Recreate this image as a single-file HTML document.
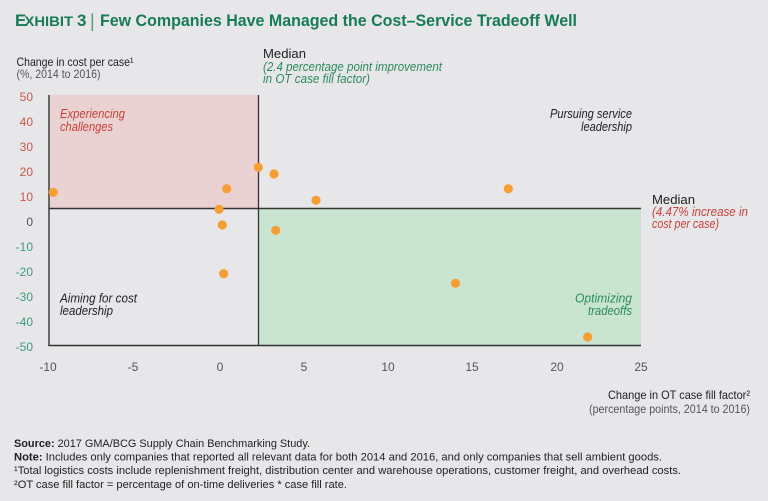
<!DOCTYPE html>
<html>
<head>
<meta charset="utf-8">
<style>
  html, body { margin:0; padding:0; background:#e7e7e9; }
  svg { display:block; }
  text { font-family: "Liberation Sans", "DejaVu Sans", sans-serif; }
</style>
</head>
<body>
<svg width="768" height="501" viewBox="0 0 768 501" xmlns="http://www.w3.org/2000/svg">
  <rect x="0" y="0" width="768" height="501" fill="#e7e7e9"/>

  <!-- Title -->
  <text x="15" y="26" font-size="17" font-weight="bold" fill="#177b57">E</text>
  <text x="24.5" y="26" font-size="13.5" font-weight="bold" fill="#177b57" textLength="48.5" lengthAdjust="spacingAndGlyphs">XHIBIT</text>
  <text x="77" y="26" font-size="17" font-weight="bold" fill="#177b57">3</text>
  <text x="90" y="27" font-size="18" fill="#4d9a7c">|</text>
  <text x="100" y="26" font-size="17" font-weight="bold" fill="#177b57" textLength="477" lengthAdjust="spacingAndGlyphs">Few Companies Have Managed the Cost–Service Tradeoff Well</text>

  <!-- Y axis title -->
  <text x="16.5" y="66" font-size="12" fill="#222" textLength="117" lengthAdjust="spacingAndGlyphs">Change in cost per case¹</text>
  <text x="16.5" y="78" font-size="12" fill="#555" textLength="84" lengthAdjust="spacingAndGlyphs">(%, 2014 to 2016)</text>

  <!-- Median top label -->
  <text x="263" y="58" font-size="13" fill="#222" textLength="43" lengthAdjust="spacingAndGlyphs">Median</text>
  <text x="263" y="71" font-size="12.5" font-style="italic" fill="#2a8a5e" textLength="179" lengthAdjust="spacingAndGlyphs">(2.4 percentage point improvement</text>
  <text x="263" y="83" font-size="12.5" font-style="italic" fill="#2a8a5e" textLength="107" lengthAdjust="spacingAndGlyphs">in OT case fill factor)</text>

  <!-- Quadrant fills -->
  <rect x="49" y="95" width="209.5" height="113.5" fill="#ead2d2"/>
  <rect x="258.5" y="208.5" width="382.5" height="136.5" fill="#c9e4d1"/>

  <!-- Axis lines -->
  <line x1="49" y1="95" x2="49" y2="345.5" stroke="#333" stroke-width="1.4"/>
  <line x1="48.3" y1="345.5" x2="641" y2="345.5" stroke="#333" stroke-width="1.4"/>
  <!-- Median lines -->
  <line x1="258.5" y1="95" x2="258.5" y2="345" stroke="#333" stroke-width="1.3"/>
  <line x1="49" y1="208.5" x2="641" y2="208.5" stroke="#333" stroke-width="1.4"/>

  <!-- Y tick labels -->
  <g font-size="12" text-anchor="end">
    <text x="33" y="101" fill="#c9574b">50</text>
    <text x="33" y="126" fill="#c9574b">40</text>
    <text x="33" y="151" fill="#c9574b">30</text>
    <text x="33" y="176" fill="#c9574b">20</text>
    <text x="33" y="201" fill="#c9574b">10</text>
    <text x="33" y="226" fill="#555">0</text>
    <text x="33" y="251" fill="#3d9a78">-10</text>
    <text x="33" y="276" fill="#3d9a78">-20</text>
    <text x="33" y="301" fill="#3d9a78">-30</text>
    <text x="33" y="326" fill="#3d9a78">-40</text>
    <text x="33" y="351" fill="#3d9a78">-50</text>
  </g>

  <!-- X tick labels -->
  <g font-size="12" text-anchor="middle" fill="#555">
    <text x="48" y="371">-10</text>
    <text x="133" y="371">-5</text>
    <text x="220" y="371">0</text>
    <text x="304" y="371">5</text>
    <text x="388" y="371">10</text>
    <text x="472" y="371">15</text>
    <text x="557" y="371">20</text>
    <text x="641" y="371">25</text>
  </g>

  <!-- Quadrant labels -->
  <g font-size="12.5" font-style="italic">
    <text x="60" y="118" fill="#c8413a" textLength="65" lengthAdjust="spacingAndGlyphs">Experiencing</text>
    <text x="60" y="131" fill="#c8413a" textLength="53" lengthAdjust="spacingAndGlyphs">challenges</text>
    <text x="60" y="302.5" fill="#222" textLength="77" lengthAdjust="spacingAndGlyphs">Aiming for cost</text>
    <text x="60" y="315" fill="#222" textLength="53" lengthAdjust="spacingAndGlyphs">leadership</text>
    <text x="632" y="118" fill="#222" text-anchor="end" textLength="82" lengthAdjust="spacingAndGlyphs">Pursuing service</text>
    <text x="632" y="131" fill="#222" text-anchor="end" textLength="51" lengthAdjust="spacingAndGlyphs">leadership</text>
    <text x="632" y="302.5" fill="#2a8a5e" text-anchor="end" textLength="57" lengthAdjust="spacingAndGlyphs">Optimizing</text>
    <text x="632" y="315" fill="#2a8a5e" text-anchor="end" textLength="44" lengthAdjust="spacingAndGlyphs">tradeoffs</text>
  </g>

  <!-- Median right label -->
  <text x="652" y="204" font-size="13" fill="#222" textLength="43" lengthAdjust="spacingAndGlyphs">Median</text>
  <text x="652" y="216" font-size="12.5" font-style="italic" fill="#c8413a" textLength="96" lengthAdjust="spacingAndGlyphs">(4.47% increase in</text>
  <text x="652" y="228" font-size="12.5" font-style="italic" fill="#c8413a" textLength="67" lengthAdjust="spacingAndGlyphs">cost per case)</text>

  <!-- Data points -->
  <g fill="#f59e34">
    <circle cx="53.3" cy="192.3" r="4.6"/>
    <circle cx="258.3" cy="167.3" r="4.6"/>
    <circle cx="274" cy="174" r="4.6"/>
    <circle cx="226.7" cy="188.7" r="4.6"/>
    <circle cx="316" cy="200.3" r="4.6"/>
    <circle cx="219" cy="209.3" r="4.6"/>
    <circle cx="222.3" cy="225" r="4.6"/>
    <circle cx="275.7" cy="230.3" r="4.6"/>
    <circle cx="223.7" cy="273.7" r="4.6"/>
    <circle cx="508.3" cy="188.7" r="4.6"/>
    <circle cx="455.5" cy="283.3" r="4.6"/>
    <circle cx="587.7" cy="337" r="4.6"/>
  </g>

  <!-- X axis title -->
  <text x="750" y="399" font-size="12" fill="#222" text-anchor="end" textLength="142" lengthAdjust="spacingAndGlyphs">Change in OT case fill factor²</text>
  <text x="750" y="413" font-size="12" fill="#555" text-anchor="end" textLength="161" lengthAdjust="spacingAndGlyphs">(percentage points, 2014 to 2016)</text>

  <!-- Footnotes -->
  <g font-size="11" fill="#222">
    <text x="14" y="447" textLength="296" lengthAdjust="spacingAndGlyphs"><tspan font-weight="bold">Source:</tspan> 2017 GMA/BCG Supply Chain Benchmarking Study.</text>
    <text x="14" y="460.5" textLength="648" lengthAdjust="spacingAndGlyphs"><tspan font-weight="bold">Note:</tspan> Includes only companies that reported all relevant data for both 2014 and 2016, and only companies that sell ambient goods.</text>
    <text x="14" y="474" textLength="667" lengthAdjust="spacingAndGlyphs">¹Total logistics costs include replenishment freight, distribution center and warehouse operations, customer freight, and overhead costs.</text>
    <text x="14" y="488" textLength="333" lengthAdjust="spacingAndGlyphs">²OT case fill factor = percentage of on-time deliveries * case fill rate.</text>
  </g>
</svg>
</body>
</html>
